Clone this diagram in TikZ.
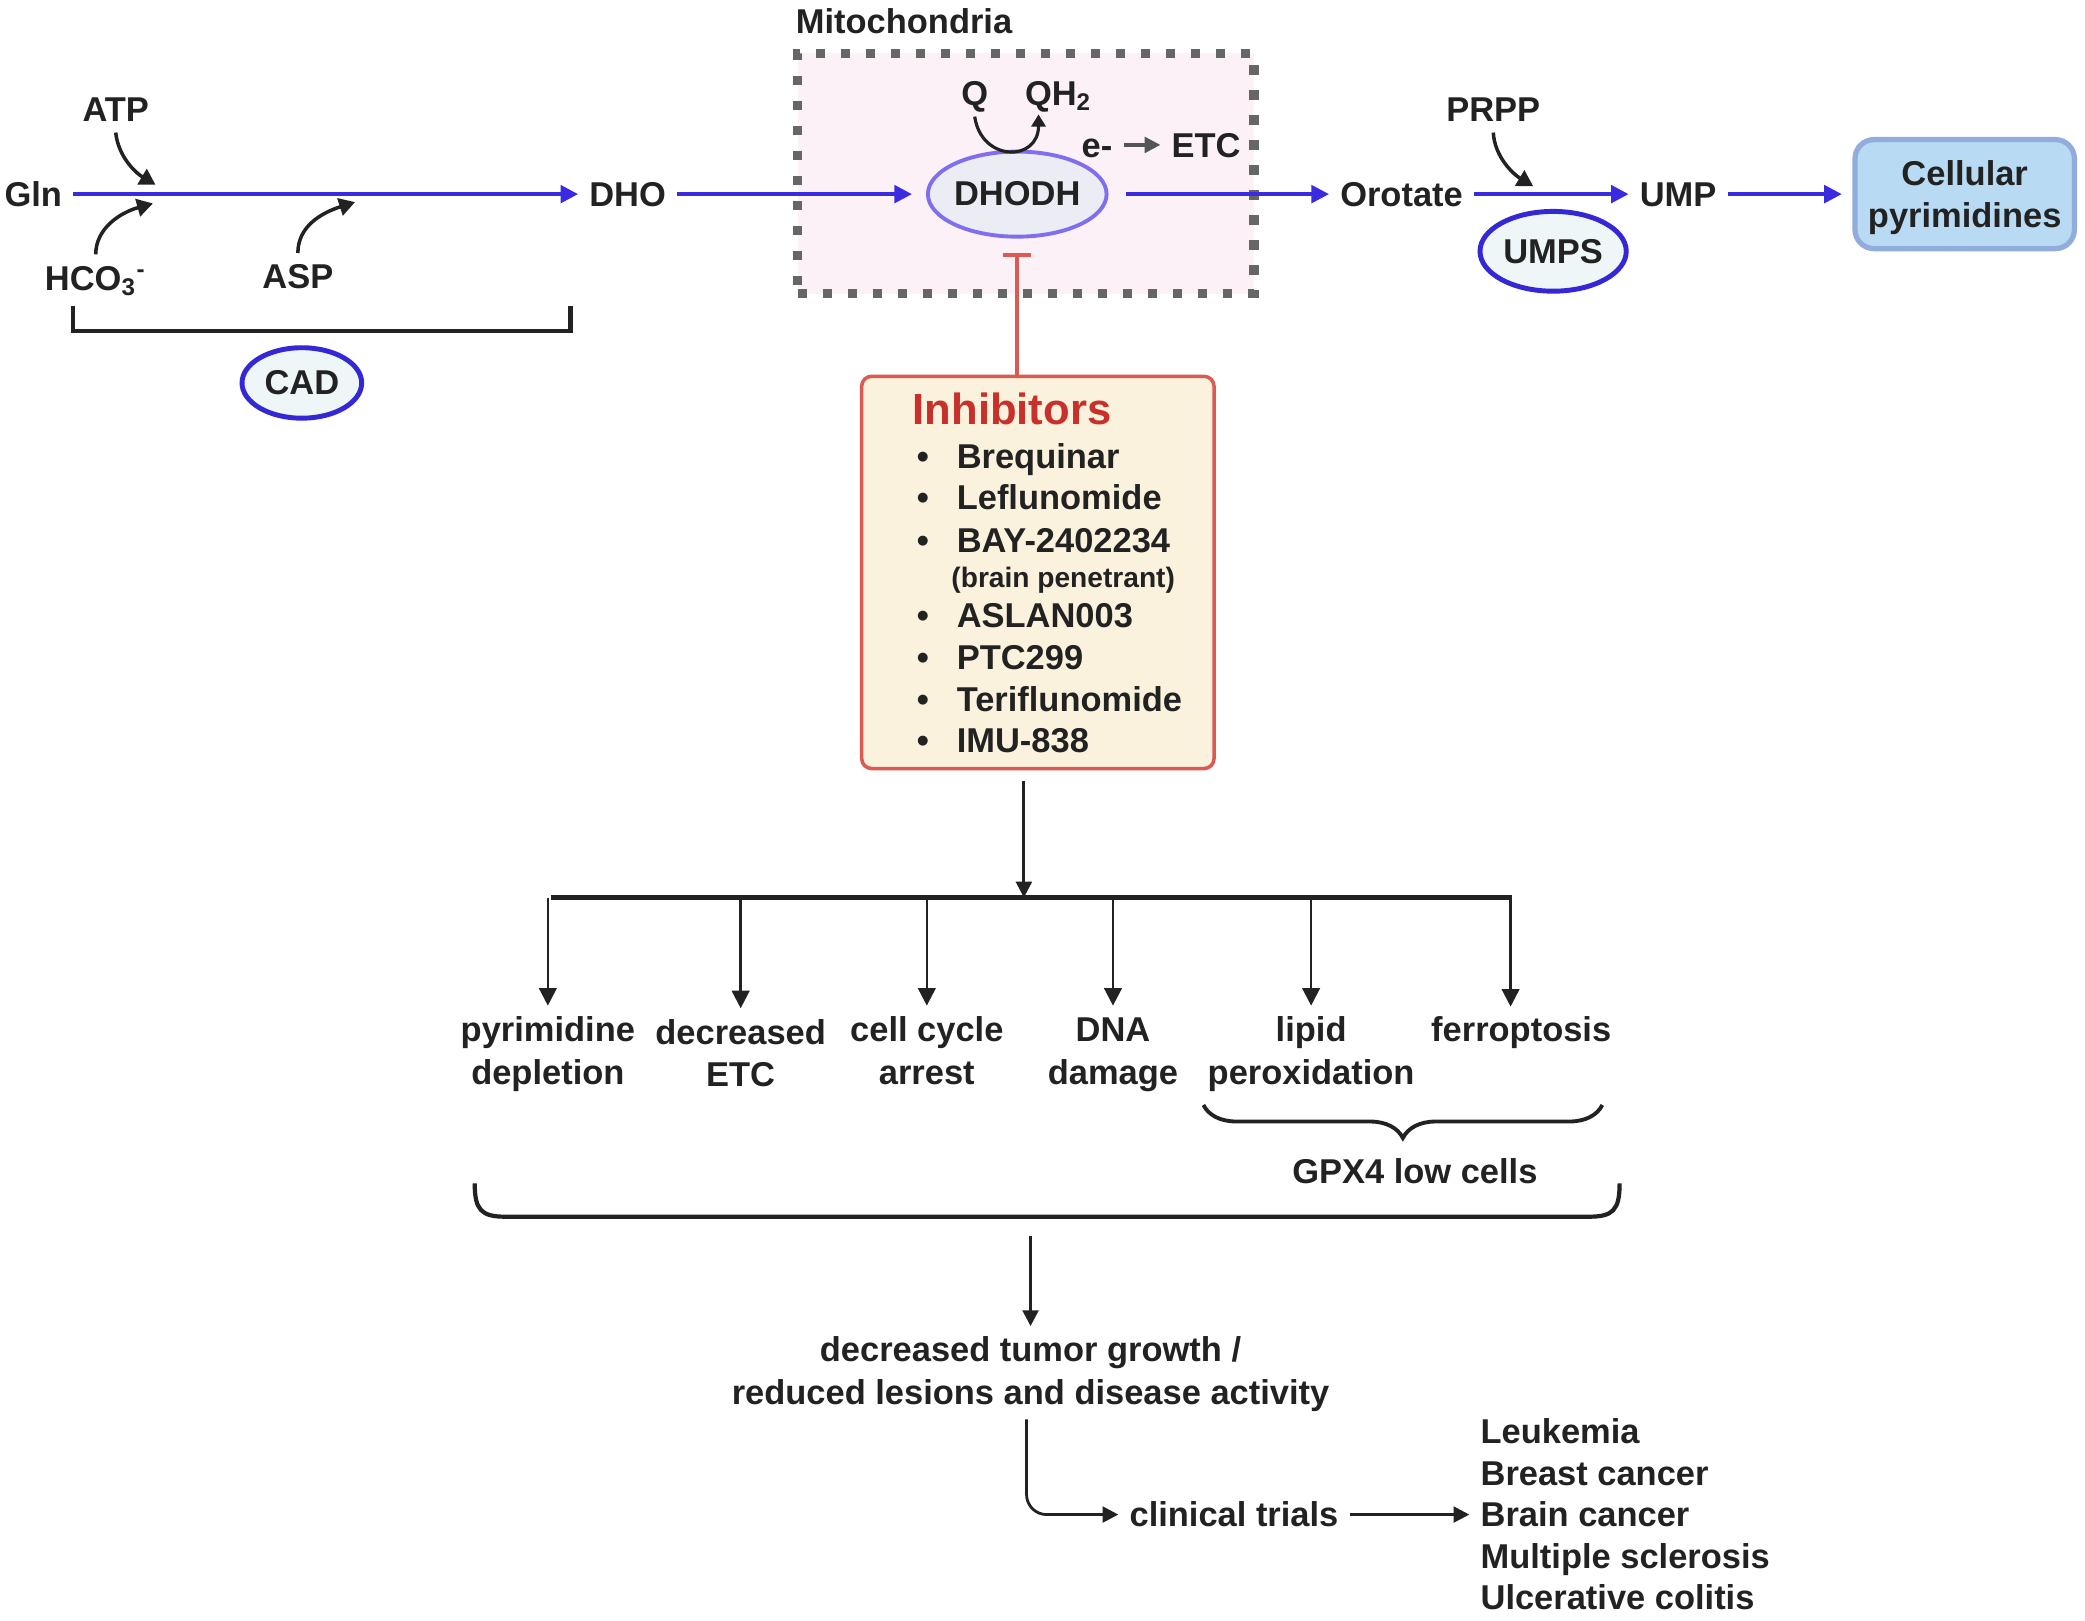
\documentclass[tikz,border=0pt]{standalone}
\usepackage{fontspec}
\setmainfont{Liberation Sans}
\usetikzlibrary{arrows.meta,shapes.geometric,fit,decorations.pathreplacing,calc}
\definecolor{pathblue}{HTML}{3A2BE0}
\definecolor{dhodhdraw}{HTML}{7F6FEF}
\definecolor{dhodhfill}{HTML}{ECECF4}
\definecolor{enzdraw}{HTML}{3427D6}
\definecolor{enzfill}{HTML}{EEF6F8}
\definecolor{mitofill}{HTML}{FBF1F7}
\definecolor{mitodash}{HTML}{666666}
\definecolor{cellfill}{HTML}{B8DAF2}
\definecolor{celldraw}{HTML}{92ADDC}
\definecolor{inhfill}{HTML}{FAF2DC}
\definecolor{inhdraw}{HTML}{DB5A52}
\definecolor{inhtitle}{HTML}{C8302C}
\definecolor{ink}{HTML}{222222}
\definecolor{etcgray}{HTML}{555555}
\newcommand\lblfont{\fontsize{9.8}{12.1}\selectfont\bfseries}
\newcommand\pxu{0.013297cm}
\begin{document}
\begin{tikzpicture}[x=0.013297cm, y=-0.013297cm,
  lbl/.style={font=\lblfont, text=ink, text height=7pt, text depth=0pt, inner sep=3pt, align=center},
  lbltwo/.style={lbl, text height=19.1pt},
  flow/.style={draw=pathblue, line width=1pt, -{Triangle[length=5pt,width=5pt]}},
  thinarrow/.style={draw=ink, line width=0.8pt, -{Triangle[length=4.5pt,width=4.5pt]}},
  branch/.style={draw=ink, line width=0.7pt, -{Triangle[length=5pt,width=5pt]}},
  curarrow/.style={draw=ink, line width=1pt, -{Triangle[length=4.5pt,width=5pt]}},
  enz/.style={ellipse, draw=enzdraw, fill=enzfill, line width=1.4pt, font=\lblfont, text=ink, inner sep=0pt},
  item/.style={lbl, inner sep=0pt, anchor=west},
  bul/.style={font=\lblfont, text=ink, inner sep=0pt, text height=7pt, text depth=0pt}
]
\useasboundingbox (0,0) rectangle (1568,1219);

% Mitochondria box
\node[fit={(600,40) (943,221)}, inner sep=0pt, draw=mitodash, fill=mitofill, line width=2.6pt, dash pattern=on 0.093cm off 0.157cm] (mito) {};
\node[lbl, anchor=west, inner sep=0pt] (mitolbl) at (598,16) {Mitochondria};

% main pathway
\node[lbl] (gln) at (25,146) {Gln};
\node[lbl] (dho) at (472,146) {DHO};
\node[ellipse, draw=dhodhdraw, fill=dhodhfill, line width=1.1pt, font=\lblfont, text=ink, inner sep=0pt, minimum width=133*\pxu, minimum height=64*\pxu] (dhodh) at (765,146) {DHODH};
\node[lbl] (q) at (733,70) {Q};
\node[lbl] (qh) at (796,70) {QH\textsubscript{2}};
\coordinate (qend) at (781,86);
\node[lbl] (em) at (825,109) {e-};
\node[lbl] (etc) at (907,109) {ETC};
\node[lbl] (oro) at (1054,146) {Orotate};
\node[lbl] (prpp) at (1123,82) {PRPP};
\node[lbl] (ump) at (1262,146) {UMP};
\node[enz, minimum width=110*\pxu, minimum height=60*\pxu] (umps) at (1168,189) {UMPS};
\node[lbltwo, rounded corners=0.19cm, draw=celldraw, fill=cellfill, line width=1.5pt, inner sep=0pt, minimum width=165*\pxu, minimum height=82*\pxu] (cell) at (1477.5,146) {Cellular\\pyrimidines};

% left inputs
\node[lbl] (atp) at (87,82) {ATP};
\node[lbl] (hco) at (72,209) {HCO\textsubscript{3}\textsuperscript{-}};
\node[lbl] (asp) at (224,208) {ASP};
\node[enz, minimum width=90*\pxu, minimum height=53*\pxu] (cad) at (227,288) {CAD};
\coordinate (atpend) at (117,139);
\coordinate (hcoend) at (115,153);
\coordinate (aspend) at (267,152);
\coordinate (prppend) at (1153,140);

\draw[flow] (gln) -- (dho);
\draw[flow, shorten >=4pt] (dho) -- (dhodh);
\draw[flow, shorten <=5pt] (dhodh) -- (oro);
\draw[flow] (oro) -- (ump);
\draw[flow, shorten >=3pt] (ump) -- (cell);

\draw[curarrow] (atp.south) .. controls (89,118) and (102,130) .. (atpend);
\draw[curarrow] (hco.north) .. controls (72,172) and (90,160) .. (hcoend);
\draw[curarrow] (asp.north) .. controls (224,170) and (242,160) .. (aspend);
\draw[curarrow] (prpp.south) .. controls (1124,118) and (1138,131) .. (prppend);
\draw[draw=ink, line width=0.9pt, -{Triangle[length=3.5pt,width=4pt]}] (q.south) .. controls (738,122) and (781,122) .. (qend);
\draw[draw=etcgray, line width=0.9pt, -{Triangle[length=4.5pt,width=4.5pt]}] (em) -- (etc);

% CAD bracket
\draw[draw=ink, line width=1.2pt] (55,230) -- (55,249) -- (429,249) -- (429,230);

% Inhibitors
\node[fit={(648,283) (913,578)}, inner sep=0pt, draw=inhdraw, fill=inhfill, rounded corners=0.1cm, line width=1pt] (inh) {};
\node[font=\fontsize{12.4}{14}\selectfont\bfseries, text=inhtitle, text height=9pt, text depth=0pt, inner sep=0pt] (inhtitle) at (761,307) {Inhibitors};
\foreach \t/\yy [count=\i] in {Brequinar/343, Leflunomide/374, BAY-2402234/406, ASLAN003/463, PTC299/494, Teriflunomide/526, IMU-838/557} {
  \node[item] (it\i) at (719,\yy) {\t};
  \node[bul] (bu\i) at (694,\yy) {\textbullet};
}
\node[font=\fontsize{8}{9.6}\selectfont\bfseries, text=ink, text height=6pt, text depth=0pt, inner sep=0pt, anchor=west] (brain) at (715,434) {(brain penetrant)};
\draw[draw=inhdraw, line width=1.1pt, -{Bar[width=8pt,line width=1.1pt]}, shorten >=4pt] (inh.north -| dhodh.south) -- (dhodh.south);

% branch
\coordinate (junc) at (770,675);
\coordinate (bl) at (414,675);
\coordinate (brr) at (1137,675);
\draw[thinarrow, shorten <=3pt] (inh.south -| junc) -- (junc);
\draw[draw=ink, line width=1.3pt] (bl) -- (brr);

\node[lbltwo] (pd) at (412,790) {pyrimidine\\depletion};
\node[lbltwo] (de) at (557,792) {decreased\\ETC};
\node[lbltwo] (cc) at (697,790) {cell cycle\\arrest};
\node[lbltwo] (dna) at (837,790) {DNA\\damage};
\node[lbltwo] (lp) at (986,790) {lipid\\peroxidation};
\node[lbl] (fe) at (1144,774) {ferroptosis};
\coordinate (feend) at (1136,757);

\draw[branch] (pd.north |- bl) -- (pd.north);
\draw[branch] (de.north |- bl) -- (de.north);
\draw[branch] (cc.north |- bl) -- (cc.north);
\draw[branch] (dna.north |- bl) -- (dna.north);
\draw[branch] (lp.north |- bl) -- (lp.north);
\draw[branch] (feend |- bl) -- (feend);

% braces
\draw[draw=ink, line width=1.1pt, decorate, decoration={brace, mirror, amplitude=0.33cm}] (905,831) -- (1205,831);
\node[lbl] (gpx) at (1064,881) {GPX4 low cells};
\draw[draw=ink, line width=1.2pt] (357,890) .. controls (357,910) and (362,915) .. (380,915) -- (1195,915) .. controls (1213,915) and (1218,910) .. (1218,890);
\coordinate (bb) at (775,916);

% outcome
\node[lbltwo] (out) at (775,1031) {decreased tumor growth /\\reduced lesions and disease activity};
\draw[thinarrow, shorten <=5pt] (bb) -- (out.north);
\node[lbl] (clin) at (928,1139) {clinical trials};
\draw[thinarrow, rounded corners=0.2cm, shorten <=1pt] (out.south -| 772,0) |- (clin.west);
\node[lbl, align=left, anchor=west, font=\fontsize{9.8}{11.8}\selectfont\bfseries, text height=54.2pt] (dis) at (1105,1139) {Leukemia\\Breast cancer\\Brain cancer\\Multiple sclerosis\\Ulcerative colitis};
\draw[thinarrow] (clin.east) -- (clin.east -| dis.west);
\end{tikzpicture}
\end{document}
